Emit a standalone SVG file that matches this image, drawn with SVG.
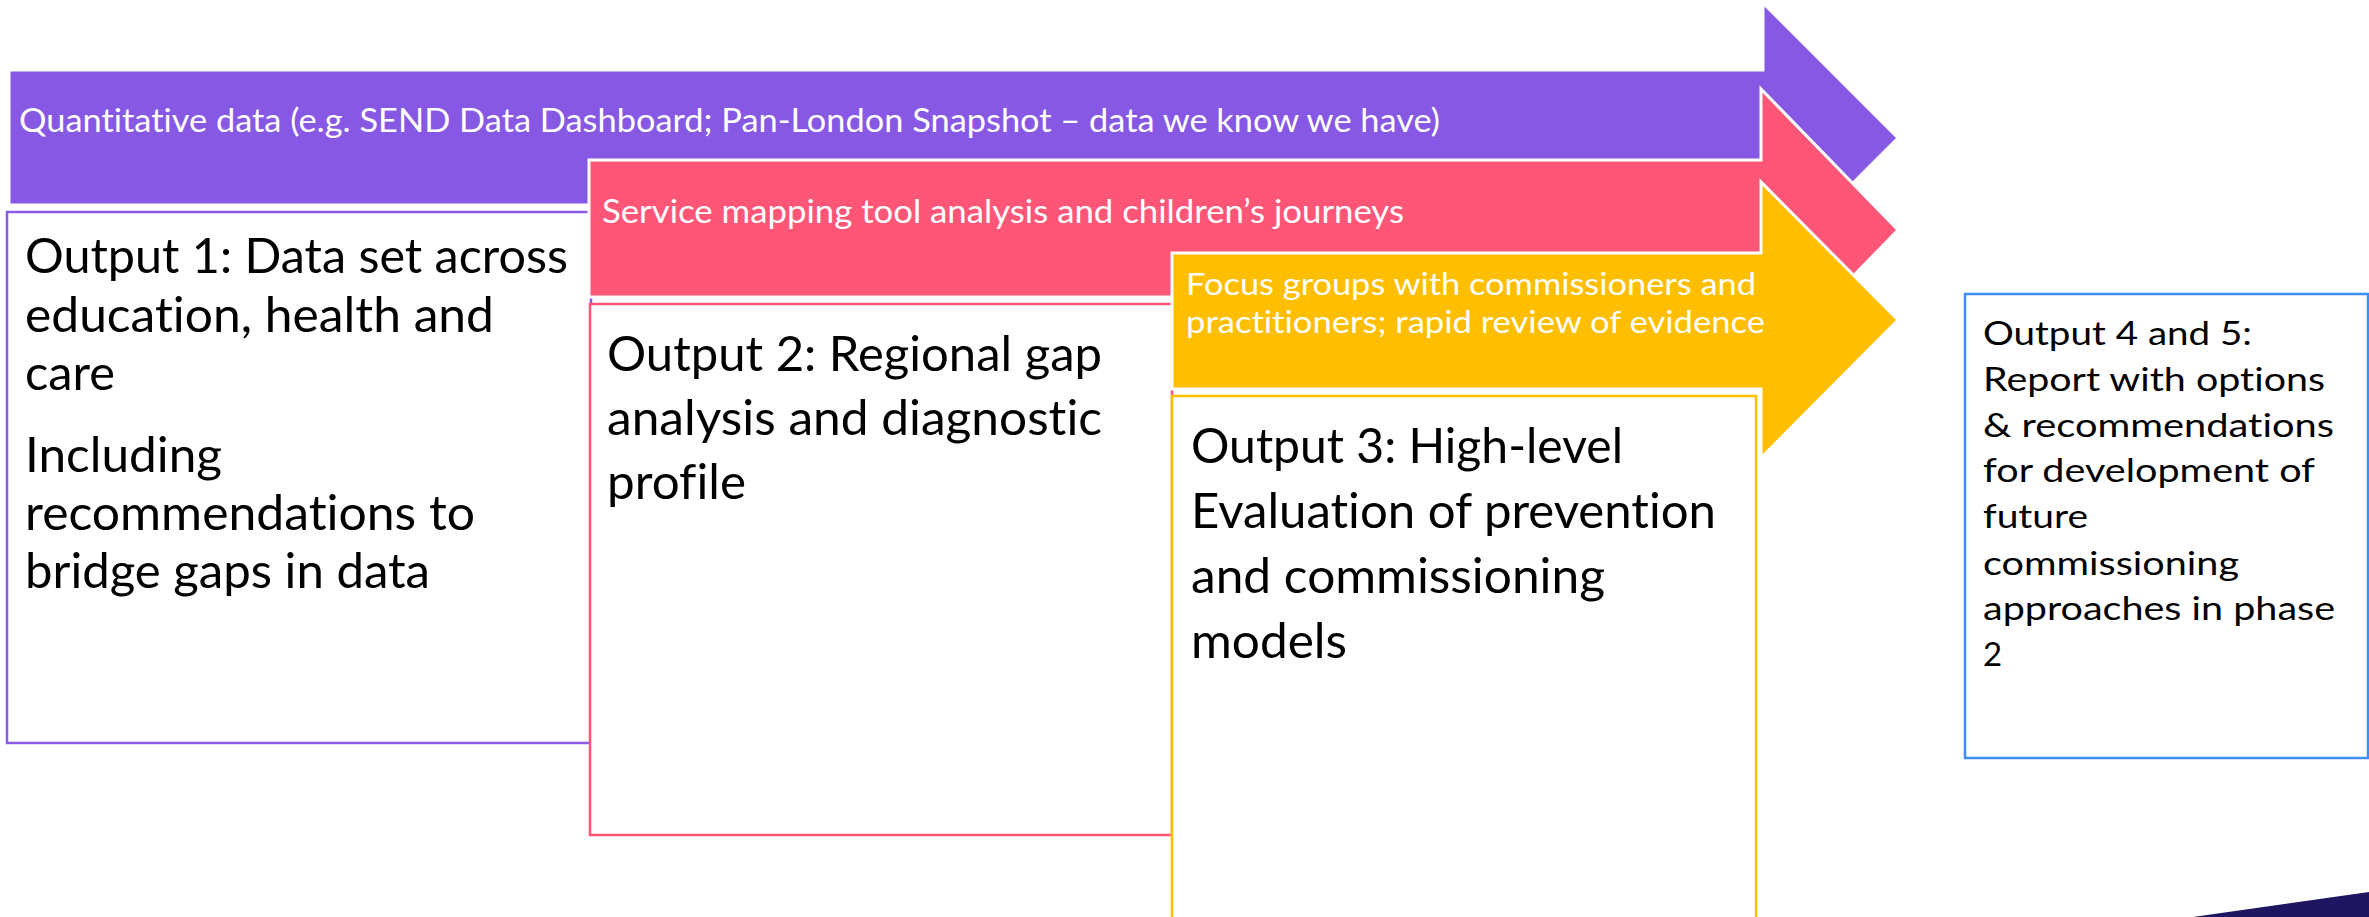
<svg xmlns="http://www.w3.org/2000/svg" width="2369" height="917" viewBox="0 0 2369 917">
<style>
.arrow{stroke:#ffffff;stroke-width:3;stroke-linejoin:miter}
.box{fill:#ffffff;stroke-width:2.5}
text{font-family:Lato,"Liberation Sans",sans-serif;font-variant-ligatures:none;font-feature-settings:"liga" 0,"dlig" 0}
.lbl{fill:#ffffff;font-size:33px}
.lbl2{fill:#ffffff;font-size:30px}
.big{fill:#000000;font-size:48px}
.small{fill:#000000;font-size:33px}
</style>
<rect x="0" y="0" width="2369" height="917" fill="#ffffff"/>

<g id="stream-quantitative">
<polygon class="arrow" fill="#8758E4" points="9,70 1763,70 1763,3 1898,138 1763,273 1763,205 9,205"/>
<text class="lbl" x="19" y="132" textLength="1421" lengthAdjust="spacingAndGlyphs">Quantitative data (e.g. SEND Data Dashboard; Pan-London Snapshot – data we know we have)</text>
</g>

<g id="output-1">
<rect class="box" stroke="#8A5CE6" x="7" y="212" width="584" height="531"/>
<text class="big" x="25" y="273" textLength="543" lengthAdjust="spacingAndGlyphs">Output 1: Data set across</text>
<text class="big" x="25" y="332" textLength="469" lengthAdjust="spacingAndGlyphs">education, health and</text>
<text class="big" x="25" y="390" textLength="90" lengthAdjust="spacingAndGlyphs">care</text>
<text class="big" x="25" y="472" textLength="197" lengthAdjust="spacingAndGlyphs">Including</text>
<text class="big" x="25" y="530" textLength="450" lengthAdjust="spacingAndGlyphs">recommendations to</text>
<text class="big" x="25" y="588" textLength="405" lengthAdjust="spacingAndGlyphs">bridge gaps in data</text>
</g>

<g id="stream-service-mapping">
<polygon class="arrow" fill="#FF5678" points="589,160 1761,160 1761,89 1898,230 1761,371 1761,297 589,297"/>
<text class="lbl" x="602" y="223" textLength="802" lengthAdjust="spacingAndGlyphs">Service mapping tool analysis and children’s journeys</text>
</g>

<g id="output-2">
<rect class="box" stroke="#FF5477" x="590" y="304" width="582" height="531"/>
<text class="big" x="607" y="371" textLength="495" lengthAdjust="spacingAndGlyphs">Output 2: Regional gap</text>
<text class="big" x="607" y="435" textLength="495" lengthAdjust="spacingAndGlyphs">analysis and diagnostic</text>
<text class="big" x="607" y="499" textLength="139" lengthAdjust="spacingAndGlyphs">profile</text>
</g>

<g id="stream-focus-groups">
<polygon class="arrow" fill="#FFBE00" points="1172,253 1761,253 1761,182 1898,320 1761,458 1761,389 1172,389"/>
<text class="lbl2" x="1186" y="295" textLength="570" lengthAdjust="spacingAndGlyphs">Focus groups with commissioners and</text>
<text class="lbl2" x="1186" y="333" textLength="579" lengthAdjust="spacingAndGlyphs">practitioners; rapid review of evidence</text>
</g>

<g id="output-3">
<rect class="box" stroke="#FFBE00" x="1172" y="396" width="584" height="560"/>
<text class="big" x="1191" y="463" textLength="432" lengthAdjust="spacingAndGlyphs">Output 3: High-level</text>
<text class="big" x="1191" y="528" textLength="525" lengthAdjust="spacingAndGlyphs">Evaluation of prevention</text>
<text class="big" x="1191" y="593" textLength="414" lengthAdjust="spacingAndGlyphs">and commissioning</text>
<text class="big" x="1191" y="658" textLength="156" lengthAdjust="spacingAndGlyphs">models</text>
</g>

<g id="output-4-5">
<rect class="box" stroke="#3F8CF5" x="1965" y="294" width="403" height="464"/>
<text class="small" x="1983" y="345" textLength="269" lengthAdjust="spacingAndGlyphs">Output 4 and 5:</text>
<text class="small" x="1983" y="391" textLength="342" lengthAdjust="spacingAndGlyphs">Report with options</text>
<text class="small" x="1983" y="437" textLength="351" lengthAdjust="spacingAndGlyphs">&amp; recommendations</text>
<text class="small" x="1983" y="482" textLength="332" lengthAdjust="spacingAndGlyphs">for development of</text>
<text class="small" x="1983" y="528" textLength="105" lengthAdjust="spacingAndGlyphs">future</text>
<text class="small" x="1983" y="575" textLength="256" lengthAdjust="spacingAndGlyphs">commissioning</text>
<text class="small" x="1983" y="620" textLength="352" lengthAdjust="spacingAndGlyphs">approaches in phase</text>
<text class="small" x="1983" y="666">2</text>
</g>

<g id="corner-band">
<polygon fill="#1E1660" points="2193,917 2369,892 2369,917"/>
</g>
</svg>
